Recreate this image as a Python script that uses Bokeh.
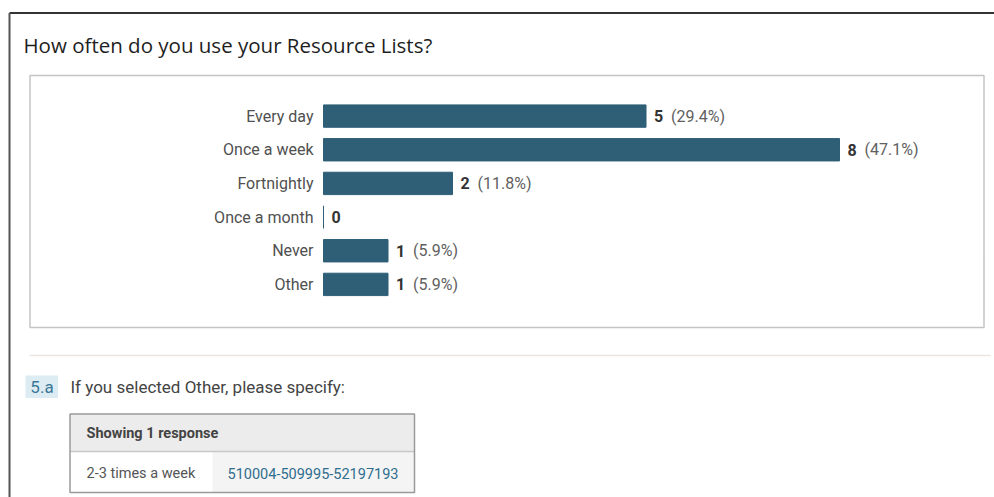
from bokeh.plotting import figure
from bokeh.models import Range1d, ColumnDataSource
from bokeh.core.properties import value
from bokeh.embed import file_html
from bokeh.resources import INLINE

# ---- data ----
categories = ["Every day", "Once a week", "Fortnightly", "Once a month", "Never", "Other"]
counts = [5, 8, 2, 0, 1, 1]
percent_labels = ["(29.4%)", "(47.1%)", "(11.8%)", "", "(5.9%)", "(5.9%)"]
title_text = "How often do you use your Resource Lists?"
sub_number = "5.a"
sub_question = "If you selected Other, please specify:"
table_header = "Showing 1 response"
response_text = "2-3 times a week"
response_id = "510004-509995-52197193"

# ---- layout (page pixels) ----
W, H = 994, 497
OX, OY = 0, 0
ZERO_X = 323.0       # page x of count 0
PX_PER_UNIT = 64.5
ROW0_Y = 115.6       # page y of first category centre
ROW_STEP = 33.66

s = -(ZERO_X - OX) / PX_PER_UNIT
count_range = Range1d(s, s + W / PX_PER_UNIT)
i_top = (OY - ROW0_Y) / ROW_STEP
i_bot = (OY + H - ROW0_Y) / ROW_STEP
cat_range = Range1d(i_bot, i_top)

p = figure(width=W, height=H, output_backend="svg", toolbar_location=None,
           x_range=Range1d(OX, OX + W), y_range=Range1d(OY + H, OY),
           min_border=0, min_border_left=0, min_border_right=0,
           min_border_top=0, min_border_bottom=0)
p.xaxis.visible = False
p.yaxis.visible = False
p.grid.visible = False
p.outline_line_color = None
p.background_fill_color = "white"
p.border_fill_color = "white"
p.extra_x_ranges = {"count": count_range}
p.extra_y_ranges = {"cat": cat_range}

# ---- frames ----
p.segment(x0=[9], y0=[12.5], x1=[OX + W], y1=[12.5], line_color="#333333", line_width=2)
p.segment(x0=[9], y0=[12.5], x1=[9], y1=[OY + H], line_color="#555555", line_width=2)
p.quad(left=[29.5], right=[983.5], top=[75], bottom=[327], fill_color="white",
       line_color="#c4c4c4", line_width=1.5)

p.text(x=[23], y=[44], text=[title_text], text_font=value("Open Sans"),
       text_font_size="20.5px", text_color="#1e1e1e", text_baseline="alphabetic",
       text_align="left")

# ---- bars ----
idx = list(range(len(categories)))
src = ColumnDataSource(dict(y=idx, cat=categories, count=counts, pct=percent_labels,
                            cnt=[str(c) for c in counts]))
p.hbar(y="y", left=0, right="count", height=0.665, source=src,
       fill_color="#2e5f77", line_color="#2e5f77", line_width=1,
       x_range_name="count", y_range_name="cat")
p.text(x=0, y="y", text="cat", source=src, x_range_name="count", y_range_name="cat",
       x_offset=-10, text_align="right", text_baseline="middle",
       text_font=value("Roboto"), text_font_size="16px", text_color="#505050")
p.text(x="count", y="y", text="cnt", source=src, x_range_name="count", y_range_name="cat",
       x_offset=8, text_align="left", text_baseline="middle", text_font_style="bold",
       text_font=value("Roboto"), text_font_size="16px", text_color="#333333")
p.text(x="count", y="y", text="pct", source=src, x_range_name="count", y_range_name="cat",
       x_offset=25, text_align="left", text_baseline="middle",
       text_font=value("Roboto"), text_font_size="16px", text_color="#606060")

# ---- follow-up question ----
p.segment(x0=[29], y0=[355], x1=[990], y1=[355], line_color="#ebe7df", line_width=1.5)
p.quad(left=[25], right=[57.5], top=[375], bottom=[397.5], fill_color="#ddecf3",
       line_color=None)
p.text(x=[41.5], y=[386.5], text=[sub_number], text_font=value("Roboto"), text_font_size="17px",
       text_color="#3a7898", text_align="center", text_baseline="middle")
p.text(x=[70], y=[386.5], text=[sub_question], text_font=value("Roboto"), text_font_size="17px",
       text_color="#444444", text_align="left", text_baseline="middle")

# table
p.quad(left=[69.5], right=[414], top=[413.5], bottom=[451], fill_color="#ececec", line_color=None)
p.quad(left=[212], right=[414], top=[451], bottom=[492], fill_color="#f4f4f4", line_color=None)
p.segment(x0=[69.5], y0=[451], x1=[414], y1=[451], line_color="#c8c8c8", line_width=1.5)
p.quad(left=[69.5], right=[414], top=[413.5], bottom=[492], fill_color=None,
       line_color="#9a9a9a", line_width=1.5)
p.text(x=[86], y=[432.5], text=[table_header], text_font=value("Roboto"), text_font_size="14.5px",
       text_font_style="bold", text_color="#444444", text_baseline="middle")
p.text(x=[86], y=[472.5], text=[response_text], text_font=value("Roboto"), text_font_size="14.5px",
       text_color="#555555", text_baseline="middle")
p.text(x=[227], y=[472.5], text=[response_id], text_font=value("Roboto"), text_font_size="14.5px",
       text_color="#2f6e8e", text_baseline="middle")

open("out.html", "w").write(file_html(p, INLINE))
